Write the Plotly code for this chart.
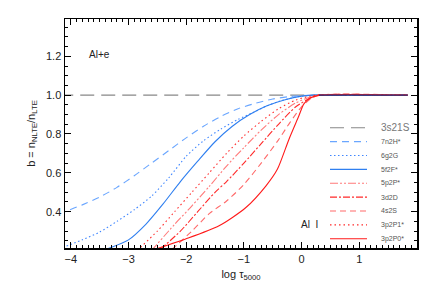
import plotly.graph_objects as go

# ---- data (log tau_5000, departure coefficient b) ----
x_3s21S = [-4.2, 1.84]
b_3s21S = [1.0, 1.0]

x_7n2H = [-4.2, -4.1, -3.8, -3.5, -3.2, -2.9, -2.6, -2.3, -2.0, -1.7, -1.4, -1.1, -0.8, -0.5, -0.2, 0.1, 0.3, 1.84]
b_7n2H = [0.385, 0.40, 0.435, 0.475, 0.525, 0.585, 0.65, 0.715, 0.78, 0.84, 0.89, 0.93, 0.958, 0.98, 0.993, 0.999, 1.0, 1.0]

x_6g2G = [-4.2, -4.1, -3.8, -3.5, -3.2, -2.9, -2.6, -2.3, -2.0, -1.7, -1.4, -1.1, -0.85, -0.6, -0.39, -0.1, 0.2, 1.84]
b_6g2G = [0.21, 0.22, 0.255, 0.295, 0.35, 0.41, 0.48, 0.575, 0.685, 0.765, 0.825, 0.875, 0.909, 0.945, 0.968, 0.99, 1.0, 1.0]

x_5f2F = [-3.4, -3.0, -2.7, -2.4, -2.1, -1.8, -1.5, -1.2, -0.9, -0.6, -0.3, 0.0, 0.2, 1.84]
b_5f2F = [0.205, 0.255, 0.335, 0.44, 0.555, 0.66, 0.76, 0.84, 0.90, 0.945, 0.975, 0.995, 1.0, 1.0]

x_5p2P = [-2.6, -2.2, -1.9, -1.6, -1.3, -1.0, -0.7, -0.4, -0.1, 0.15, 0.3, 1.84]
b_5p2P = [0.20, 0.335, 0.43, 0.53, 0.635, 0.73, 0.82, 0.90, 0.96, 0.99, 1.0, 1.0]

x_3d2D = [-2.45, -2.1, -1.8, -1.5, -1.3, -1.0, -0.7, -0.4, -0.1, 0.15, 0.3, 1.84]
b_3d2D = [0.205, 0.30, 0.40, 0.50, 0.555, 0.65, 0.75, 0.85, 0.94, 0.985, 1.0, 1.0]

x_4s2S = [-2.25, -1.9, -1.6, -1.3, -1.0, -0.7, -0.4, -0.2, 0.0, 0.15, 0.3, 1.84]
b_4s2S = [0.205, 0.30, 0.39, 0.455, 0.54, 0.65, 0.77, 0.86, 0.94, 0.98, 1.0, 1.0]

x_3p2P1 = [-2.85, -2.5, -2.2, -1.9, -1.6, -1.3, -1.0, -0.7, -0.4, -0.1, 0.15, 0.3, 1.84]
b_3p2P1 = [0.20, 0.30, 0.40, 0.50, 0.60, 0.70, 0.79, 0.865, 0.93, 0.975, 0.995, 1.0, 1.0]

x_3p2P0 = [-2.5, -2.01, -1.43, -0.97, -0.62, -0.42, -0.22, -0.05, 0.04, 0.15, 0.33, 1.84]
b_3p2P0 = [0.21, 0.259, 0.327, 0.42, 0.532, 0.618, 0.772, 0.891, 0.955, 0.985, 1.0, 1.0]

x_merged = [0.3, 1.84]
b_merged = [1.0, 1.0]

labels = ["3s21S", "7n2H*", "6g2G", "5f2F*", "5p2P*", "3d2D", "4s2S", "3p2P1*", "3p2P0*"]
xs = [x_3s21S, x_7n2H, x_6g2G, x_5f2F, x_5p2P, x_3d2D, x_4s2S, x_3p2P1, x_3p2P0]
bs = [b_3s21S, b_7n2H, b_6g2G, b_5f2F, b_5p2P, b_3d2D, b_4s2S, b_3p2P1, b_3p2P0]
colors = ["#888888", "#6aa6ff", "#3f86ff", "#2f7ff0", "#ff7a7a", "#ff2a2a", "#ff6a6a", "#ff2a2a", "#ff1a1a"]
dashes = ["14px,7px", "7px,5px", "1.5px,2.5px", "solid", "8px,2px,2px,2px,2px,2px",
          "7px,2px,2px,2px", "6px,4px", "1.5px,3px", "solid"]

x_ticks = [-4, -3, -2, -1, 0, 1]
y_ticks = [0.4, 0.6, 0.8, 1.0, 1.2]

fig = go.Figure()
for x, b, c, d, name in zip(xs, bs, colors, dashes, labels):
    fig.add_trace(go.Scatter(x=x, y=b, mode="lines", name=name, showlegend=False, hoverinfo="skip",
                             line=dict(color=c, width=1.1, dash=d, shape="spline", smoothing=0.7)))
fig.add_trace(go.Scatter(x=x_merged, y=b_merged, mode="lines", showlegend=False, hoverinfo="skip",
                         line=dict(color="#1c2f7a", width=1.3)))

# hand-drawn legend (paper coordinates)
L, R, T, B = 65, 417, 19, 248.5
W, H = R - L, B - T
def px(xp):
    return (xp - L) / W
def py(yp):
    return (B - yp) / H

y0, step = 128, 13.9
for i, (name, c, d) in enumerate(zip(labels, colors, dashes)):
    yy = py(y0 + i * step)
    fig.add_shape(type="line", xref="paper", yref="paper", x0=px(330), x1=px(367), y0=yy, y1=yy,
                  line=dict(color=c, width=1.1, dash=d))
    fig.add_annotation(xref="paper", yref="paper", x=px(379), y=yy, text=name, showarrow=False,
                       xanchor="left", yanchor="middle",
                       font=dict(size=10 if i == 0 else 7, color="#777777" if i == 0 else "#555555",
                                 family="Liberation Sans"))

fig.add_annotation(xref="paper", yref="paper", x=px(87), y=py(55), text="Al+e", showarrow=False,
                   xanchor="left", yanchor="middle", font=dict(size=10, color="#222222"))
fig.add_annotation(xref="paper", yref="paper", x=px(299), y=py(225), text="Al  I", showarrow=False,
                   xanchor="left", yanchor="middle", font=dict(size=10, color="#222222"))

axis_common = dict(showgrid=False, zeroline=False, showline=True, linecolor="black", linewidth=1.5,
                   mirror="allticks", ticks="inside", ticklen=6, tickcolor="black", tickwidth=1,
                   tickfont=dict(size=11, color="#222222"), automargin=False)
fig.update_xaxes(range=[-4.1, 2.0], tickvals=x_ticks, ticktext=["\u22124", "\u22123", "\u22122", "\u22121", "0", "1"],
                 minor=dict(dtick=0.1, tick0=0, ticks="inside", ticklen=3, tickcolor="black"),
                 title=dict(text="log \u03c4<sub>5000</sub>", font=dict(size=11, color="#222222"), standoff=6),
                 **axis_common)
fig.update_yaxes(range=[0.213, 1.392], tickvals=y_ticks, ticktext=["0.4", "0.6", "0.8", "1.0", "1.2"],
                 minor=dict(dtick=0.05, tick0=0, ticks="inside", ticklen=3, tickcolor="black"),
                 title=dict(text="b = n<sub>NLTE</sub>/n<sub>LTE</sub>", font=dict(size=11, color="#222222"), standoff=8),
                 **axis_common)
fig.update_layout(width=436, height=290, margin=dict(l=65, r=19, t=19, b=41.5),
                  plot_bgcolor="white", paper_bgcolor="white", hovermode=False,
                  font=dict(family="Liberation Sans", color="#222222"))
fig.write_html("out.html", config={"displayModeBar": False, "staticPlot": True},
               post_script="document.body.style.margin='0';document.body.style.overflow='hidden';")
